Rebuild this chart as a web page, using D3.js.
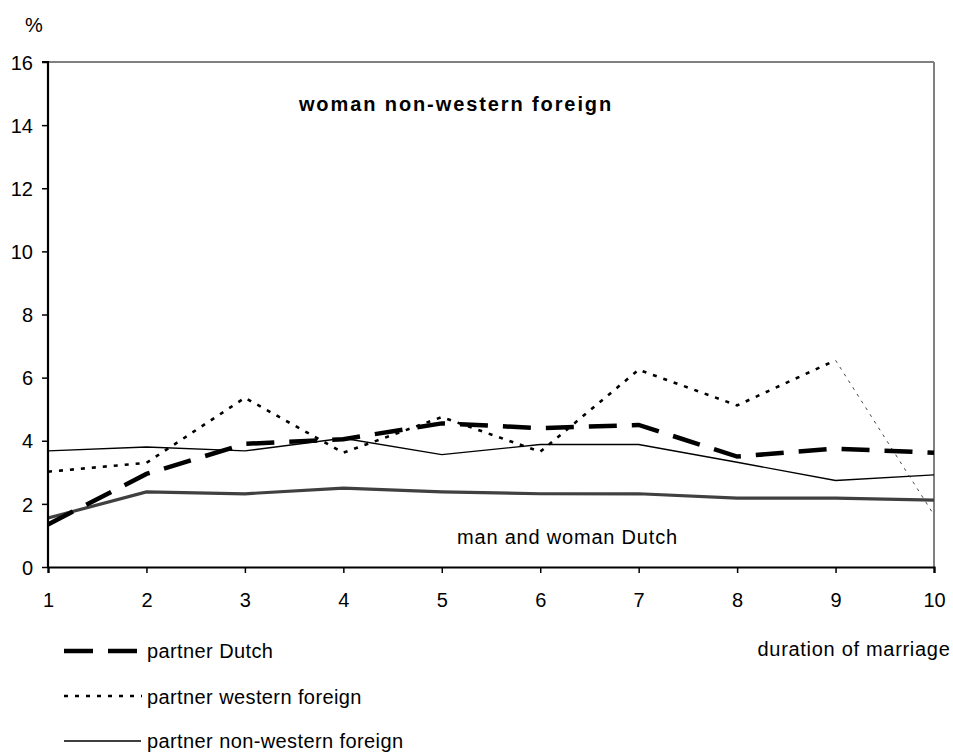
<!DOCTYPE html>
<html><head><meta charset="utf-8">
<script src="https://cdn.jsdelivr.net/npm/d3@7"></script>
<style>body{margin:0;background:#fff}svg{font-family:"Liberation Sans",Arial,sans-serif}</style>
</head><body>
<svg id="c" width="953" height="753"></svg>
<script>
const years = [1,2,3,4,5,6,7,8,9,10];
const yTicks = [0,2,4,6,8,10,12,14,16];
const partnerDutch = [1.35,2.95,3.9,4.05,4.55,4.4,4.5,3.5,3.75,3.62];
const partnerWestern = [3.02,3.3,5.36,3.62,4.75,3.65,6.25,5.12,6.55,1.65];
const partnerNonWestern = [3.68,3.8,3.68,4.08,3.56,3.88,3.88,3.32,2.74,2.92];
const bothDutch = [1.55,2.38,2.32,2.5,2.38,2.32,2.32,2.18,2.18,2.12];

const svg = d3.select("#c");
const L=48, R=934, T=62, B=567;
const x = d3.scaleLinear().domain([1,10]).range([L,R]);
const y = d3.scaleLinear().domain([0,16]).range([B,T]);
const FS = 20;

svg.append("line").attr("x1",L).attr("x2",R).attr("y1",T).attr("y2",T).attr("stroke","#808080").attr("stroke-width",2);
svg.append("line").attr("x1",R).attr("x2",R).attr("y1",T).attr("y2",B).attr("stroke","#808080").attr("stroke-width",2);

const line = d3.line().x((d,i)=>x(years[i])).y(d=>y(d));

svg.append("path").attr("d",line(bothDutch)).attr("fill","none").attr("stroke","#404040").attr("stroke-width",3.2);
svg.append("path").attr("d",line(partnerNonWestern)).attr("fill","none").attr("stroke","#000").attr("stroke-width",1.4);
const w1 = partnerWestern.slice(0,9);
svg.append("path").attr("d",line(w1)).attr("fill","none").attr("stroke","#000").attr("stroke-width",2.6).attr("stroke-dasharray","4,7");
const lastSeg = d3.line().x(d=>x(d[0])).y(d=>y(d[1]));
svg.append("path").attr("d",lastSeg([[years[8],partnerWestern[8]],[years[9],partnerWestern[9]]])).attr("fill","none").attr("stroke","#333").attr("stroke-width",0.9).attr("stroke-dasharray","3,5");
svg.append("path").attr("d",line(partnerDutch)).attr("fill","none").attr("stroke","#000").attr("stroke-width",4.5).attr("stroke-dasharray","28,15");

const ya = svg.append("g").attr("transform",`translate(${L},0)`).call(d3.axisLeft(y).tickValues(yTicks).tickSize(6).tickPadding(9));
const xa = svg.append("g").attr("transform",`translate(0,${B})`).call(d3.axisBottom(x).tickValues(years).tickSize(6).tickPadding(20));
[ya,xa].forEach(g=>{g.selectAll("path").attr("stroke","#000").attr("stroke-width",2.2);g.selectAll("line").attr("stroke","#000").attr("stroke-width",1.5);g.selectAll("text").attr("font-size",FS).attr("fill","#000").attr("font-family","Liberation Sans, Arial, sans-serif");});
ya.selectAll("text").attr("dy","0.36em");
ya.select(".domain").attr("d",`M-6,${T}H0V${B}`);

svg.append("text").attr("x",25).attr("y",32).attr("font-size",FS).text("%");
svg.append("text").attr("x",456).attr("y",111).attr("text-anchor","middle").attr("font-size",FS).attr("font-weight","bold").attr("letter-spacing",1.9).text("woman non-western foreign");
svg.append("text").attr("x",457).attr("y",544).attr("font-size",FS).attr("letter-spacing",0.8).text("man and woman Dutch");
svg.append("text").attr("x",854).attr("y",656).attr("text-anchor","middle").attr("font-size",FS).attr("letter-spacing",0.7).text("duration of marriage");

// legend
svg.append("line").attr("x1",64).attr("x2",137).attr("y1",651).attr("y2",651).attr("stroke","#000").attr("stroke-width",4.5).attr("stroke-dasharray","29,15");
svg.append("text").attr("x",147).attr("y",658).attr("font-size",FS).attr("letter-spacing",0.4).text("partner Dutch");
svg.append("line").attr("x1",64).attr("x2",142).attr("y1",696).attr("y2",696).attr("stroke","#000").attr("stroke-width",2.6).attr("stroke-dasharray","4,7");
svg.append("text").attr("x",147).attr("y",704).attr("font-size",FS).attr("letter-spacing",0.4).text("partner western foreign");
svg.append("line").attr("x1",64).attr("x2",141).attr("y1",741).attr("y2",741).attr("stroke","#000").attr("stroke-width",1.4);
svg.append("text").attr("x",147).attr("y",748).attr("font-size",FS).attr("letter-spacing",0.4).text("partner non-western foreign");
</script>
</body></html>
